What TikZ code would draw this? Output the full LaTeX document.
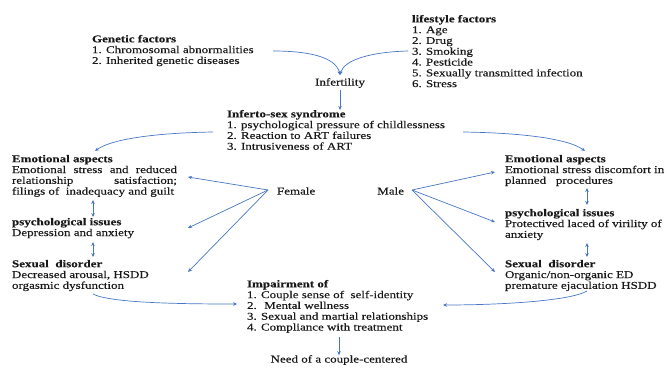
\documentclass[tikz,border=0pt]{standalone}
\usepackage{fontspec}
\setmainfont{Liberation Serif}[FakeStretch=1.25, FakeBold=0.3]
\usetikzlibrary{arrows.meta}
\definecolor{arr}{RGB}{72,118,196}
\definecolor{ink}{RGB}{25,25,25}
\newcommand\nb[1]{\makebox[14pt][l]{#1}}
\newcommand\jl[1]{\makebox[165pt][s]{#1}}
\begin{document}
\begin{tikzpicture}[x=1pt,y=-1pt,
  txt/.style={inner sep=0pt, outer sep=0pt, align=left, text=ink,
    font=\fontsize{10.4}{10.8}\selectfont, anchor=north west},
  lbl/.style={inner sep=0pt, outer sep=0pt, text=ink, font=\fontsize{10.4}{10.8}\selectfont},
  conn/.style={draw=arr, line width=0.7pt, -{Stealth[length=4pt,width=3.5pt]}},
  dbl/.style={draw=arr, line width=0.7pt, {Stealth[length=4pt,width=3.5pt]}-{Stealth[length=4pt,width=3.5pt]}}]
\useasboundingbox (0,0) rectangle (667,367);

% text blocks
\node[txt] (gen) at (92,35) {\textbf{Genetic factors}\\
  \nb{1.}Chromosomal abnormalities\\
  \nb{2.}Inherited genetic diseases};
\node[txt] (life) at (412,15) {\textbf{lifestyle factors}\\
  \nb{1.}Age\\ \nb{2.}Drug\\ \nb{3.}Smoking\\ \nb{4.}Pesticide\\
  \nb{5.}Sexually transmitted infection\\ \nb{6.}Stress};
\node[lbl] (inf) at (340,83) {Infertility};
\node[txt] (isx) at (227,110) {\textbf{Inferto-sex syndrome}\\
  \nb{1.}psychological pressure of childlessness\\
  \nb{2.}Reaction to ART failures\\
  \nb{3.}Intrusiveness of ART};
\node[txt] (lemo) at (12,155) {\textbf{Emotional aspects}\\
  \jl{Emotional stress and reduced}\\
  \jl{relationship satisfaction;}\\
  filings of~ inadequacy and guilt};
\node[txt] (lpsy) at (12,218) {\textbf{psychological issues}\\ Depression and anxiety};
\node[txt] (lsex) at (12,260) {\textbf{Sexual~ disorder}\\ Decreased arousal, HSDD\\ orgasmic dysfunction};
\node[txt] (remo) at (505,155) {\textbf{Emotional aspects}\\
  Emotional stress discomfort in\\ planned~~ procedures};
\node[txt] (rpsy) at (505,209) {\textbf{psychological issues}\\
  Protectived laced of virility of\\ anxiety};
\node[txt] (rsex) at (505,260) {\textbf{Sexual~ disorder}\\
  Organic/non-organic ED\\ premature ejaculation HSDD};
\node[lbl, anchor=west] (fem) at (277,191) {Female};
\node[lbl, anchor=east] (mal) at (404,191) {Male};
\node[txt] (imp) at (247,280) {\textbf{Impairment of}\\
  \nb{1.}Couple sense of~ self-identity\\
  \nb{2.}~Mental wellness\\
  \nb{3.}Sexual and martial relationships\\
  \nb{4.}Compliance with treatment};
\node[lbl] (need) at (339,360) {Need of a couple-centered};

% connector points
\coordinate (genout) at (273,51);
\coordinate (lifeout) at (408,51);
\coordinate (infin) at (340,75);
\coordinate (isxl) at (213,132);
\coordinate (isxr) at (463,132);
\coordinate (lemoin) at (95,151);
\coordinate (remoin) at (585,151);
\coordinate (fv) at (268,190);
\coordinate (mv) at (412,190);
\coordinate (fa) at (188,177);
\coordinate (fb) at (188,228);
\coordinate (fc) at (188,272);
\coordinate (ma) at (495,172);
\coordinate (mb) at (495,222);
\coordinate (mc) at (495,272);
\coordinate (lsexout) at (93,294);
\coordinate (rsexout) at (587,291);
\coordinate (impl) at (237,304);
\coordinate (impr) at (443,305);

\draw[conn] (genout) .. controls (312,51) and (336,58) .. (infin);
\draw[conn] (lifeout) .. controls (370,52) and (344,60) .. (infin);
\draw[conn] (inf.south) ++(0,2) -- (isx.north -| inf);
\draw[conn] (isxl) .. controls (150,133) and (110,140) .. (lemoin);
\draw[conn] (isxr) .. controls (530,133) and (570,140) .. (remoin);
\draw[conn] (fv) -- (fa);
\draw[conn] (fv) -- (fb);
\draw[conn] (fv) -- (fc);
\draw[conn] (mv) -- (ma);
\draw[conn] (mv) -- (mb);
\draw[conn] (mv) -- (mc);
\draw[dbl] (93,200) -- (93,217);
\draw[dbl] (93,242) -- (93,257);
\draw[dbl] (587,188) -- (587,205);
\draw[dbl] (587,243) -- (587,257);
\draw[conn] (lsexout) .. controls (110,303) and (180,304) .. (impl);
\draw[conn] (rsexout) .. controls (570,301) and (500,305) .. (impr);
\draw[conn] (imp.south -| need) ++(0,4) -- (need.north);
\end{tikzpicture}
\end{document}
